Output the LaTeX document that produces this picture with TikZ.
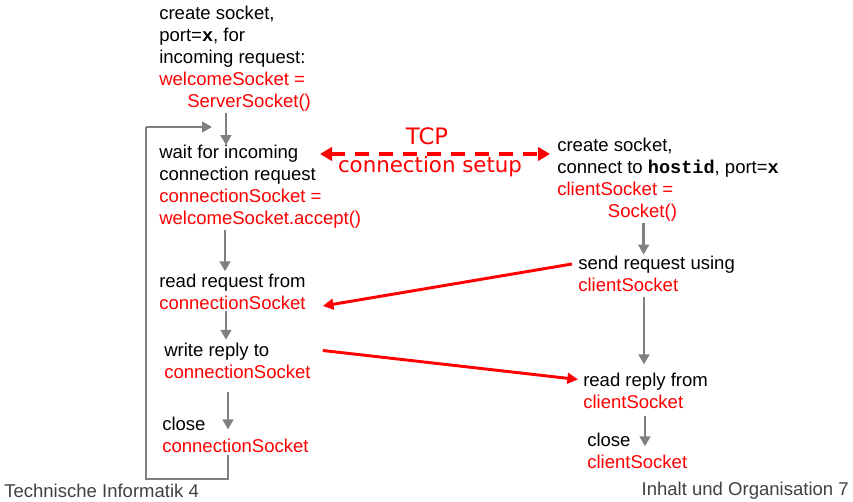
\documentclass[tikz,border=0pt]{standalone}
\usepackage{fontspec}
\setmainfont{Liberation Sans}
\setmonofont{Liberation Mono}
\newfontfamily\comicfont{DejaVu Sans}
\usetikzlibrary{arrows.meta,calc}
\definecolor{rd}{RGB}{255,0,0}
\definecolor{gr}{RGB}{128,128,128}
\definecolor{ft}{RGB}{64,64,64}
\newcommand{\rt}[1]{\textcolor{rd}{#1}}
\newcommand{\mb}[1]{\textbf{\ttfamily #1}}
\begin{document}
\begin{tikzpicture}[x=0.75pt,y=-0.75pt,
  txt/.style={inner sep=0pt,align=left,anchor=west,font=\fontsize{13.9}{16.5}\selectfont},
  garrow/.style={draw=gr,line width=2.2pt,-{Triangle[length=7.5pt,width=8pt]}},
  gline/.style={draw=gr,line width=2.2pt},
  rarrow/.style={draw=rd,line width=2.2pt,-{Triangle[length=8pt,width=8pt]}},
  tcp/.style={draw=rd,line width=2.6pt,dash pattern=on 10.5pt off 7.5pt,{Triangle[length=9pt,width=10pt]}-{Triangle[length=9pt,width=10pt]}},
  foot/.style={inner sep=0pt,text=ft,font=\fontsize{13.9}{16.5}\selectfont}]
\useasboundingbox (0,0) rectangle (853,502);
% server side
\node[txt] (s1) at (159,59) {create socket,\\port=\mb{x}, for\\incoming request:\\\rt{welcomeSocket =}\\\hspace*{21pt}\rt{ServerSocket()}};
\node[txt] (s2) at (159,187) {wait for incoming\\connection request\\\rt{connectionSocket =}\\\rt{welcomeSocket.accept()}};
\node[txt] (s3) at (159,292) {read request from\\\rt{connectionSocket}};
\node[txt] (s4) at (164,360.5) {write reply to\\\rt{connectionSocket}};
\node[txt] (s5) at (162,434.5) {close\\\rt{connectionSocket}};
% client side
\node[txt] (c1) at (557,179.5) {create socket,\\connect to \mb{hostid}, port=\mb{x}\\\rt{clientSocket =}\\\hspace*{38pt}\rt{Socket()}};
\node[txt] (c2) at (578,274) {send request using\\\rt{clientSocket}};
\node[txt] (c3) at (583,390.5) {read reply from\\\rt{clientSocket}};
\node[txt] (c4) at (587,451) {close\\\rt{clientSocket}};
% gray flow arrows
\draw[garrow] ([xshift=50.25pt,yshift=-1pt]s1.south west) -- ([xshift=50.25pt]s1.south west |- s2.north);
\draw[garrow] ([xshift=49.5pt,yshift=-1pt]s2.south west) -- ([xshift=49.5pt,yshift=2pt]s2.south west |- s3.north);
\draw[garrow] ([xshift=50.25pt,yshift=-1pt]s3.south west) -- ([xshift=50.25pt,yshift=2pt]s3.south west |- s4.north);
\draw[garrow] ([xshift=48pt,yshift=-9.75pt]s4.south west) -- ([xshift=48pt,yshift=-9.75pt]s4.south west |- s5.north);
\draw[garrow] ([xshift=65pt,yshift=-1pt]c1.south west) -- ([xshift=65pt,yshift=1pt]c1.south west |- c2.north);
\draw[garrow] ([xshift=49.5pt,yshift=-4pt]c2.south west) -- ([xshift=49.5pt,yshift=6pt]c2.south west |- c3.north);
\draw[garrow] ([xshift=46.5pt,yshift=-5.5pt]c3.south west) -- ([xshift=46.5pt,yshift=-10pt]c3.south west |- c4.north);
% loop back
\coordinate (lpA) at (228,479);
\coordinate (lpB) at (146,127);
\coordinate (lpC) at (212,127);
\draw[gline] ([xshift=49.5pt,yshift=-2pt]s5.south west) -- ([xshift=49.5pt]s5.south west |- lpA) -- (lpA -| lpB) -- (lpB);
\draw[garrow] (lpB) -- (lpC);
% TCP setup
\coordinate (tcpL) at (320,154);
\coordinate (tcpR) at (550,154);
\draw[tcp] (tcpL) -- (tcpR);
\node[inner sep=0pt,text=rd,font=\comicfont\fontsize{17}{19}\selectfont] (tcpa) at (427,136) {TCP};
\node[inner sep=0pt,text=rd,font=\comicfont\fontsize{16}{18}\selectfont] (tcpb) at (430,167) {connection setup};
% messages
\draw[rarrow] ([shift={(-6,-10)}]c2.west) -- ([shift={(17,14)}]s3.east);
\draw[rarrow] ([shift={(12,-10)}]s4.east) -- ([shift={(-5,-11)}]c3.west);
% footer
\node[foot,anchor=west] (f1) at (4,491) {Technische Informatik 4};
\node[foot,anchor=east] (f2) at (849,491) {Inhalt und Organisation 7};
\end{tikzpicture}
\end{document}
